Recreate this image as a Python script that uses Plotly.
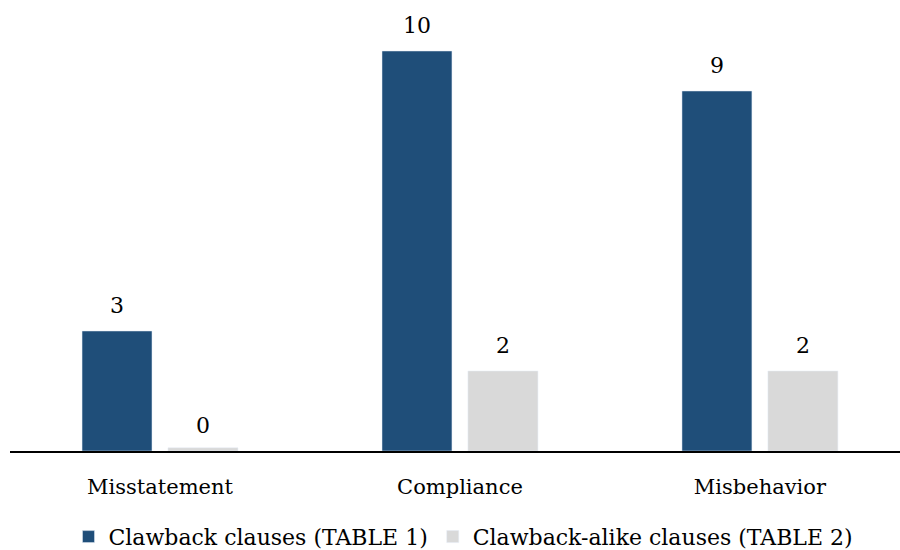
import plotly.graph_objects as go

categories = ["Misstatement", "Compliance", "Misbehavior"]
clawback = [3, 10, 9]
clawback_alike = [0, 2, 2]
series_names = ["Clawback clauses (TABLE 1)", "Clawback-alike clauses (TABLE 2)"]

BLUE = "#1F4E79"
GRAY = "#D9D9D9"
FONT = "DejaVu Serif"
FS = 21
MIN_VISIBLE = 0.08  # tiny sliver so zero bars stay visible

fig = go.Figure()
fig.add_trace(go.Bar(x=categories, y=[max(v, MIN_VISIBLE) for v in clawback],
                     name=series_names[0], marker_color=BLUE,
                     customdata=clawback, hovertemplate="%{x}: %{customdata}<extra></extra>"))
fig.add_trace(go.Bar(x=categories, y=[max(v, MIN_VISIBLE) for v in clawback_alike],
                     name=series_names[1], marker_color=GRAY,
                     customdata=clawback_alike, hovertemplate="%{x}: %{customdata}<extra></extra>"))

for vals, shift in ((clawback, -43), (clawback_alike, 43)):
    for c, v in zip(categories, vals):
        fig.add_annotation(x=c, y=v, xref="x", yref="y", text=str(v),
                           showarrow=False, xshift=shift, yshift=26,
                           yanchor="middle", font=dict(family=FONT, size=22, color="black"))

fig.update_layout(
    width=900, height=550,
    margin=dict(l=10, r=0, t=11, b=99),
    paper_bgcolor="white", plot_bgcolor="white",
    barmode="group", bargap=0.427, bargroupgap=0.186,
    font=dict(family=FONT, size=FS, color="black"),
    showlegend=True,
    legend=dict(orientation="h", x=0.515, xanchor="center", xref="container",
                y=0.024, yanchor="middle", yref="container",
                font=dict(family=FONT, size=22, color="black"), itemclick=False),
    xaxis=dict(range=[-0.5, 2.467], showline=True, linecolor="black", linewidth=1.5,
               showgrid=False, zeroline=False, ticks="", ticklabelstandoff=16,
               tickfont=dict(family=FONT, size=FS, color="black")),
    yaxis=dict(range=[0, 11], visible=False, showgrid=False, zeroline=False),
)

fig.write_html("out.html")
